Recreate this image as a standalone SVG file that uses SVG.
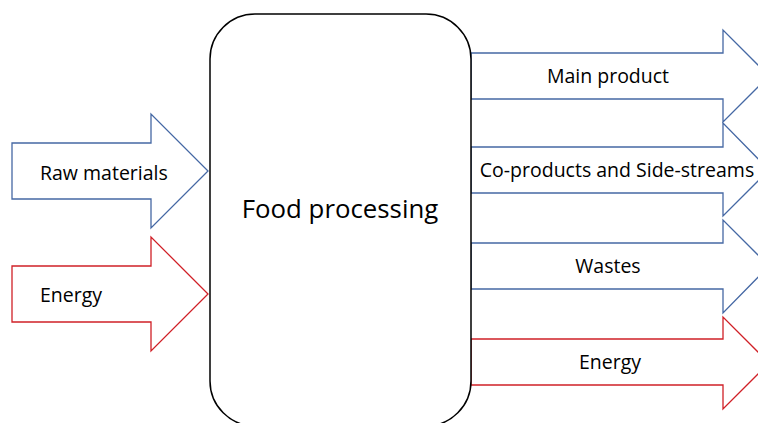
<svg xmlns="http://www.w3.org/2000/svg" width="758" height="423" viewBox="0 0 758 423">
<style>
  .blue{fill:#ffffff;stroke:#4568a4;stroke-width:1.3}
  .red{fill:#ffffff;stroke:#d02027;stroke-width:1.3}
  .box{fill:#ffffff;stroke:#000000;stroke-width:1.5}
  text{font-family:"Open Sans","Liberation Sans",sans-serif;fill:#000000}
  .lbl{font-size:19.5px}
  .mid{text-anchor:middle}
</style>
<rect width="758" height="423" fill="#ffffff"/>
<g id="connectors">
  <g id="in-raw">
    <path class="blue" d="M12,143 H151 V114 L208,171 L151,228 V199 H12 Z"/>
    <text class="lbl" x="40" y="180">Raw materials</text>
  </g>
  <g id="in-energy">
    <path class="red" d="M12,266 H151 V237 L208,294 L151,351 V322 H12 Z"/>
    <text class="lbl" x="40" y="302">Energy</text>
  </g>
  <g id="out-main">
    <path class="blue" d="M471,53 H723 V30 L769,76 L723,122 V99 H471 Z"/>
    <text class="lbl mid" x="608" y="83">Main product</text>
  </g>
  <g id="out-co">
    <path class="blue" d="M471,147 H723 V123 L769,170 L723,216 V193 H471 Z"/>
    <text class="lbl mid" x="617" y="177">Co-products and Side-streams</text>
  </g>
  <g id="out-wastes">
    <path class="blue" d="M471,243 H723 V220 L769,266 L723,313 V289 H471 Z"/>
    <text class="lbl mid" x="608" y="273">Wastes</text>
  </g>
  <g id="out-energy">
    <path class="red" d="M471,339 H723 V317 L769,363 L723,409 V385 H471 Z"/>
    <text class="lbl mid" x="610" y="369">Energy</text>
  </g>
</g>
<g id="food-processing">
  <rect class="box" x="210" y="14" width="261" height="412" rx="45" ry="45"/>
  <text class="mid" x="340" y="218" font-size="25.8">Food processing</text>
</g>
</svg>
